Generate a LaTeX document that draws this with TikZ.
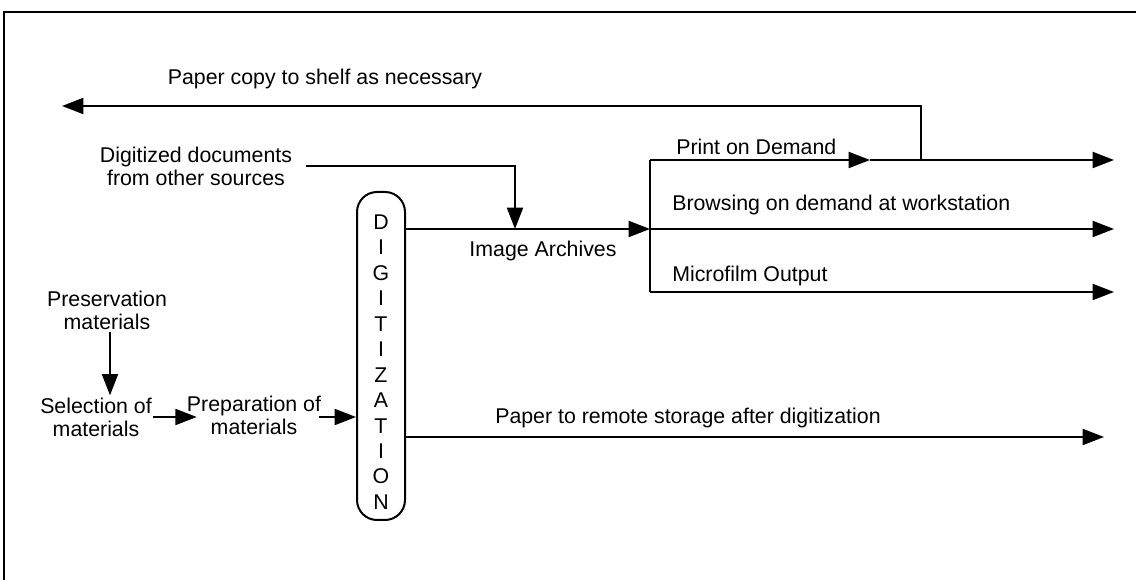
\documentclass[tikz,border=0pt]{standalone}
\usepackage{fontspec}
\setmainfont{Liberation Sans}
\usetikzlibrary{arrows.meta}

\tikzset{
  lbl/.style={inner sep=1.5pt, font=\fontsize{16}{17.3}\selectfont, align=center},
  wire/.style={line width=1.5pt},
  flow/.style={wire, -{Triangle[length=16pt,width=12pt]}},
  pill/.style={draw, line width=1.5pt, minimum width=36pt, minimum height=246pt,
               rounded corners=15pt, inner sep=0pt},
  frameline/.style={line width=1.5pt}
}

\begin{document}
\begin{tikzpicture}[x=0.75pt, y=-0.75pt]
\useasboundingbox (0,0) rectangle (1136,580);

% outer frame (top and left edges)
\draw[frameline] (1136,12) -- (4,12) -- (4,580);

% text blocks
\node[lbl] (papercopy) at (325,79) {Paper copy to shelf as necessary};
\node[lbl] (digdocs) at (196,166) {Digitized documents\\from other sources};
\node[lbl] (pres) at (107,310) {Preservation\\materials};
\node[lbl] (sel) at (96,417) {Selection of\\materials};
\node[lbl] (prep) at (254,415) {Preparation of\\materials};
\node[lbl] (imgarch) at (543,251) {Image Archives};
\node[lbl, anchor=west] (print) at (674,147) {Print on Demand};
\node[lbl, anchor=west] (browse) at (670,205) {Browsing on demand at workstation};
\node[lbl, anchor=west] (micro) at (670,276) {Microfilm Output};
\node[lbl, anchor=west] (remote) at (493,418) {Paper to remote storage after digitization};

% digitization column
\node[pill] (dig) at (381,356) {};
\node[lbl, font=\fontsize{16}{19.1}\selectfont] (digtext) at ([yshift=-4.5pt]dig.center)
  {D\\I\\G\\I\\T\\I\\Z\\A\\T\\I\\O\\N};

% junction points
\coordinate (shelf) at (62,106);
\coordinate (merge) at (515,229);
\coordinate (hub) at (650,229);
\coordinate (hubtop) at (650,160);
\coordinate (hubbot) at (650,292);
\coordinate (printmid) at (870,160);
\coordinate (branch) at (921,160);
\coordinate (printend) at (1114,160);
\coordinate (browseend) at (1114,229);
\coordinate (microend) at (1114,292);
\coordinate (remoteend) at (1104,437);

% input side
\draw[flow] (pres.south -| 110,0) -- (sel.north -| 110,0);
\draw[flow] ([xshift=-1pt]sel.east |- 0,417) -- ([xshift=9pt]prep.west |- 0,417);
\draw[flow] ([xshift=-3pt]prep.east |- 0,417) -- (dig.west |- 0,417);
\draw[flow] ([xshift=9pt]digdocs.east) -| (merge);

% archive and outputs
\draw[flow] (dig.east |- hub) -- (hub);
\draw[wire] (hubtop) -- (hubbot);
\draw[flow] (hubtop) -- (printmid);
\draw[flow] (printmid) -- (printend);
\draw[flow] (hub) -- (browseend);
\draw[flow] (hubbot) -- (microend);
\draw[flow] (branch) |- (shelf);
\draw[flow] (dig.east |- remoteend) -- (remoteend);
\end{tikzpicture}
\end{document}
